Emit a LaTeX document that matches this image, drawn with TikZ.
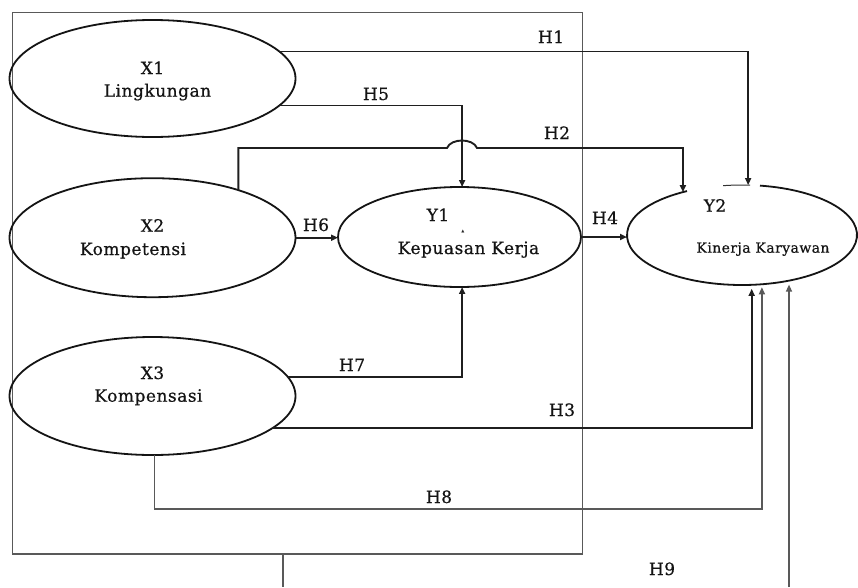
\documentclass[tikz,border=0pt]{standalone}
\usepackage{fontspec}
\setmainfont{DejaVu Serif}
\newfontfamily\lblfont{DejaVu Serif}[LetterSpace=3,FakeBold=0.6]
\newfontfamily\symfont{DejaVu Sans}
\usetikzlibrary{shapes.geometric,arrows.meta,calc}
\begin{document}
\begin{tikzpicture}[x=1pt,y=-1pt,
  ell/.style={ellipse, draw=black!92, line width=1.8pt, inner sep=0pt, outer sep=0pt},
  ellline/.style={draw=black!92, line width=1.8pt},
  txt/.style={anchor=base, inner sep=0pt, text=black!92, font=\lblfont\fontsize{17}{19}\selectfont},
  txtb/.style={anchor=base, inner sep=0pt, text=black!92, font=\lblfont\fontsize{14}{16}\selectfont},
  conn/.style={line width=1.9pt, draw=black!88, -{Triangle[length=7pt,width=6pt]}},
  conntwo/.style={line width=1.4pt, draw=black!65, -{Triangle[length=7pt,width=6pt]}},
  grpbox/.style={draw=black!65, line width=1.3pt, inner sep=0pt, outer sep=0pt}
]
\fill[white] (0,0) rectangle (858,587);
\useasboundingbox (0,0) rectangle (858,587);

% group box
\node[grpbox, minimum width=569.6pt, minimum height=541.3pt] (grp) at (297.5,283.3) {};

% latent variables
\node[ell, minimum width=286pt, minimum height=117pt] (X1) at (152.5,78.5) {};
\node[ell, minimum width=286pt, minimum height=119pt] (X2) at (152.5,237.7) {};
\node[ell, minimum width=286pt, minimum height=118pt] (X3) at (152.5,396) {};
\node[ell, minimum width=243pt, minimum height=100pt] (Y1) at (459.5,237) {};
\node[ellipse, inner sep=0pt, outer sep=0pt, minimum width=230pt, minimum height=100pt] (Y2) at (742,235) {};
\draw[ellline] ([shift={(279:115 and 50)}]Y2.center) arc[start angle=279, end angle=601.4, x radius=115, y radius=50];
\draw[draw=black!80, line width=1pt] ([shift={(260.5:115 and 50)}]Y2.center) arc[start angle=260.5, end angle=274, x radius=115, y radius=50];

% texts
\node[txt] (tX1) at (152.5,74) {X1};
\node[txt] (tX1b) at (157.5,96.7) {Lingkungan};
\node[txt] (tX2) at (152.5,231.7) {X2};
\node[txt] (tX2b) at (133,255) {Kompetensi};
\node[txt] (tX3) at (152.5,379) {X3};
\node[txt] (tX3b) at (148.5,401.7) {Kompensasi};
\node[txt] (tY1) at (438,221) {Y1};
\node[inner sep=0pt, text=black!85, font=\symfont\fontsize{4}{4}\selectfont] (dotY1) at (463,231) {▲};
\node[txt] (tY1b) at (468.5,254) {Kepuasan Kerja};
\node[txt] (tY2) at (715,211.7) {Y2};
\node[txtb] (tY2b) at (763,252.7) {Kinerja Karyawan};

% hypothesis labels
\node[txt] (lH1) at (551,43) {H1};
\node[txt] (lH5) at (376,100) {H5};
\node[txt] (lH2) at (557,139) {H2};
\node[txt] (lH6) at (316,231) {H6};
\node[txt] (lH4) at (605,224) {H4};
\node[txt] (lH7) at (352,371) {H7};
\node[txt] (lH3) at (562,416) {H3};
\node[txt] (lH8) at (439,503) {H8};
\node[txt] (lH9) at (662,575) {H9};

% helper coordinates
\coordinate (bumpL) at (447,148);
\coordinate (bumpR) at (477,148);
\coordinate (b1) at (283,587);
\coordinate (b2) at (789,587);

% connectors
\draw[conn] (X1.12) -| (Y2.83);
\draw[conn] (X1.-12) -| (Y1.87);
\draw[conn] (X2.29) |- (bumpL) .. controls +(4,-10) and +(-4,-10) .. (bumpR) -| (Y2.144);
\draw[conn] (X2.east) -- (X2.east -| Y1.west);
\draw[conn] (Y1.east) -- (Y1.east -| Y2.west);
\draw[conn] (X3.8) -| (Y1.-87);
\draw[conn, shorten >=4pt] (X3.-15) -| (Y2.-79);
\draw[conntwo, shorten >=3pt] (X3.-88) -- ++(0,54) -| (Y2.-68);
\draw[conntwo, -] ([xshift=-14.5pt]grp.south) -- (b1);
\draw[conntwo, shorten >=4pt] (b2) -- (b2 |- Y2.-44);
\end{tikzpicture}
\end{document}
